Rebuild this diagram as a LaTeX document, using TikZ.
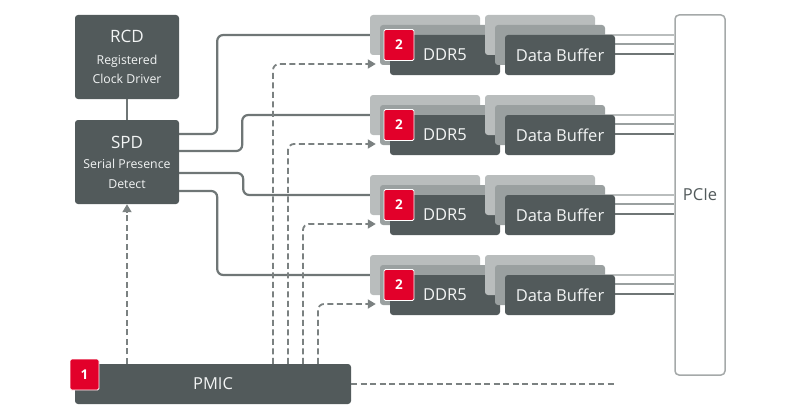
\documentclass[tikz,border=0pt]{standalone}
\usepackage{fontspec}
\setmainfont{Open Sans}
\usetikzlibrary{arrows.meta}
\pgfdeclarelayer{bg}
\pgfsetlayers{bg,main}
\definecolor{boxdark}{HTML}{525A5B}
\definecolor{layerlight}{HTML}{B9BDBD}
\definecolor{layermid}{HTML}{9AA0A0}
\definecolor{wirecol}{HTML}{6F7676}
\definecolor{dashcol}{HTML}{7B8181}
\definecolor{badgered}{HTML}{E2002A}
\definecolor{textwhite}{HTML}{F2F4F4}
\definecolor{pciecol}{HTML}{A5A9A9}
\begin{document}
\begin{tikzpicture}[x=1pt,y=-1pt,
  box/.style={fill=boxdark, rounded corners=3pt, inner sep=0pt, text=textwhite},
  layA/.style={fill=layerlight, rounded corners=3pt, inner sep=0pt, minimum width=110pt, minimum height=40pt},
  layB/.style={fill=layermid, rounded corners=3pt, inner sep=0pt, minimum width=110pt, minimum height=40pt},
  layC/.style={box, minimum width=110pt, minimum height=40pt, font=\fontsize{16.5}{16.5}\selectfont},
  title/.style={anchor=base, text=textwhite, inner sep=0pt, font=\fontsize{17}{17}\selectfont},
  subtitle/.style={anchor=base, text=textwhite, inner sep=0pt, font=\fontsize{12.3}{12.3}\selectfont},
  badge/.style={fill=badgered, draw=white, line width=0.8pt, rounded corners=1.5pt, minimum width=30pt, minimum height=31pt, inner sep=0pt, text=white, font=\fontsize{13.5}{13.5}\selectfont\bfseries},
  wire/.style={draw=wirecol, line width=2.2pt, rounded corners=6pt},
  pwr/.style={draw=dashcol, line width=1.8pt, dash pattern=on 6pt off 3.5pt, rounded corners=6pt},
  pwrarrow/.style={pwr, -{Triangle[length=8pt,width=9pt]}},
  bus/.style={line width=2pt}
]
\useasboundingbox (0,0) rectangle (800,420);

% left blocks
\node[box, minimum width=104pt, minimum height=84pt] (rcd) at (127,57) {};
\node[title] (rcdt) at (127,43) {RCD};
\node[subtitle] (rcds1) at (127,64) {Registered};
\node[subtitle] (rcds2) at (127,83.5) {Clock Driver};

\node[box, minimum width=104pt, minimum height=84pt] (spd) at (127,162) {};
\node[title] (spdt) at (127,148) {SPD};
\node[subtitle] (spds1) at (127,168) {Serial Presence};
\node[subtitle] (spds2) at (127,188) {Detect};

\node[box, minimum width=276pt, minimum height=40pt, font=\fontsize{16.5}{16.5}\selectfont] (pmic) at (213,384) {PMIC};
\node[badge, minimum width=29pt] (b1) at (84.5,374.5) {1};

% PCIe
\node[draw=pciecol, fill=white, line width=1.5pt, rounded corners=4pt, minimum width=50pt, minimum height=360pt, inner sep=0pt, text=boxdark, font=\fontsize{16.5}{16.5}\selectfont] (pcie) at (700,195) {PCIe};

% memory rows
\foreach \k in {0,1,2,3} {
  \pgfmathsetmacro{\dy}{80*\k}
  \node[layA] (bk\k) at (425,35+\dy) {};
  \node[layB] (md\k) at (435,45+\dy) {};
  \node[layC] (fr\k) at (445,55+\dy) {DDR5};
  \node[layA] (dbk\k) at (540,35+\dy) {};
  \node[layB] (dbm\k) at (550,45+\dy) {};
  \node[layC] (dbf\k) at (560,55+\dy) {Data Buffer};
  \node[badge] (b2\k) at (399,45+\dy) {2};
  \coordinate (la\k) at ([yshift=10pt]dbm\k.east);
  \coordinate (lb\k) at ([yshift=11pt]dbf\k.east);
  \coordinate (lc\k) at ([yshift=1pt]dbf\k.east);
  \begin{pgfonlayer}{bg}
    \draw[bus, draw=layerlight] (la\k) -- (la\k -| pcie.west);
    \draw[bus, draw=layermid] (lb\k) -- (lb\k -| pcie.west);
    \draw[bus, draw=wirecol] (lc\k) -- (lc\k -| pcie.west);
  \end{pgfonlayer}
}

% solid connectors
\begin{pgfonlayer}{bg}
  \draw[wire] (rcd) -- (spd);
  \draw[wire] ([yshift=28pt]spd.east) -- ++(38,0) |- (bk0.west);
  \draw[wire] ([yshift=11pt]spd.east) -- ++(63,0) |- (bk1.west);
  \draw[wire] ([yshift=-11pt]spd.east) -- ++(64,0) |- (bk2.west);
  \draw[wire] ([yshift=-29pt]spd.east) -- ++(38,0) |- (bk3.west);
\end{pgfonlayer}

% power (dashed)
\draw[pwrarrow] (spd.south |- pmic.north) -- (spd.south);
\foreach \k/\xs in {0/60,1/75,2/90,3/105} {
  \draw[pwrarrow, shorten >=4pt] ([xshift=\xs pt]pmic.north) |- ([yshift=-19pt]md\k.west);
}
\coordinate (pwrend) at (615,384);
\draw[pwr] (pmic.east) -- (pwrend);
\end{tikzpicture}
\end{document}
